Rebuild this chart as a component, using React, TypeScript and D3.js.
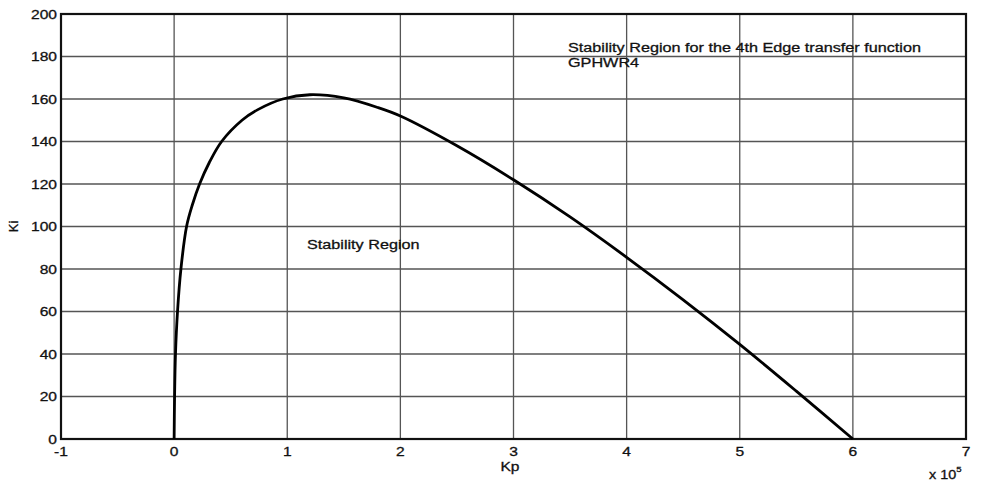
import React from "react";
import * as d3 from "d3";

const kp: number[] = [0, 0.004, 0.012, 0.03, 0.06, 0.11, 0.16, 0.225, 0.31, 0.42, 0.6, 0.74, 0.96, 1.2, 1.5, 1.8, 2.0, 2.5, 3.0, 3.5, 4.0, 4.5, 5.0, 5.5, 6.0];
const ki: number[] = [0, 20, 40, 60, 80, 100, 110, 120, 130, 140, 150, 155, 160, 162, 160.5, 156, 152, 138, 122, 104.5, 85.5, 65.5, 44.5, 22.5, 0];

const xTicks: number[] = [-1, 0, 1, 2, 3, 4, 5, 6, 7];
const yTicks: number[] = [0, 20, 40, 60, 80, 100, 120, 140, 160, 180, 200];

const SX = 1.2;

function T(props: { x: number; y: number; anchor?: string; size?: number; children: React.ReactNode; dy?: string }) {
  const { x, y, anchor = "start", size = 13, children, dy } = props;
  return (
    <text transform={`translate(${x},${y}) scale(${SX},1)`} textAnchor={anchor} fontSize={size} fill="#111" dy={dy} stroke="#111" strokeWidth={0.3}>
      {children}
    </text>
  );
}

export default function App() {
  const W = 982, H = 486;
  const x = d3.scaleLinear().domain([-1, 7]).range([61, 966]);
  const y = d3.scaleLinear().domain([0, 200]).range([439, 14]);
  const pts: [number, number][] = kp.map((k, i) => [k, ki[i]]);
  const line = d3.line<[number, number]>().x(d => x(d[0])).y(d => y(d[1])).curve(d3.curveCatmullRom.alpha(0.5));
  const font = "'Liberation Sans', Arial, sans-serif";
  return (
    <svg width={W} height={H} style={{ position: "absolute", left: 0, top: 0, background: "#fff" }} fontFamily={font}>
      <rect x={0} y={0} width={W} height={H} fill="#fff" />
      {xTicks.slice(1, -1).map(t => (
        <line key={"gx" + t} x1={x(t)} x2={x(t)} y1={y(0)} y2={y(200)} stroke="#555" strokeWidth={1.3} />
      ))}
      {yTicks.slice(1, -1).map(t => (
        <line key={"gy" + t} x1={x(-1)} x2={x(7)} y1={y(t)} y2={y(t)} stroke="#555" strokeWidth={1.3} />
      ))}
      <rect x={x(-1)} y={y(200)} width={x(7) - x(-1)} height={y(0) - y(200)} fill="none" stroke="#111" strokeWidth={2.2} />
      <path d={line(pts) || ""} fill="none" stroke="#000" strokeWidth={2.8} strokeLinejoin="round" />
      {yTicks.map(t => (
        <T key={"ty" + t} x={57} y={y(t)} dy="0.35em" anchor="end" size={13}>{t}</T>
      ))}
      {xTicks.map(t => (
        <T key={"tx" + t} x={x(t)} y={456} anchor="middle" size={13}>{t}</T>
      ))}
      <T x={510} y={471} anchor="middle" size={13}>Kp</T>
      <text transform={`translate(18,${y(100)}) rotate(-90)`} textAnchor="middle" fontSize={13} fill="#111" stroke="#111" strokeWidth={0.3}>Ki</text>
      <T x={929} y={479} size={12}>x 10<tspan dy={-7} fontSize={8}>5</tspan></T>
      <T x={568} y={52} size={13.5}>Stability Region for the 4th Edge transfer function</T>
      <T x={568} y={67} size={13.5}>GPHWR4</T>
      <T x={307} y={249} size={13.5}>Stability Region</T>
    </svg>
  );
}
